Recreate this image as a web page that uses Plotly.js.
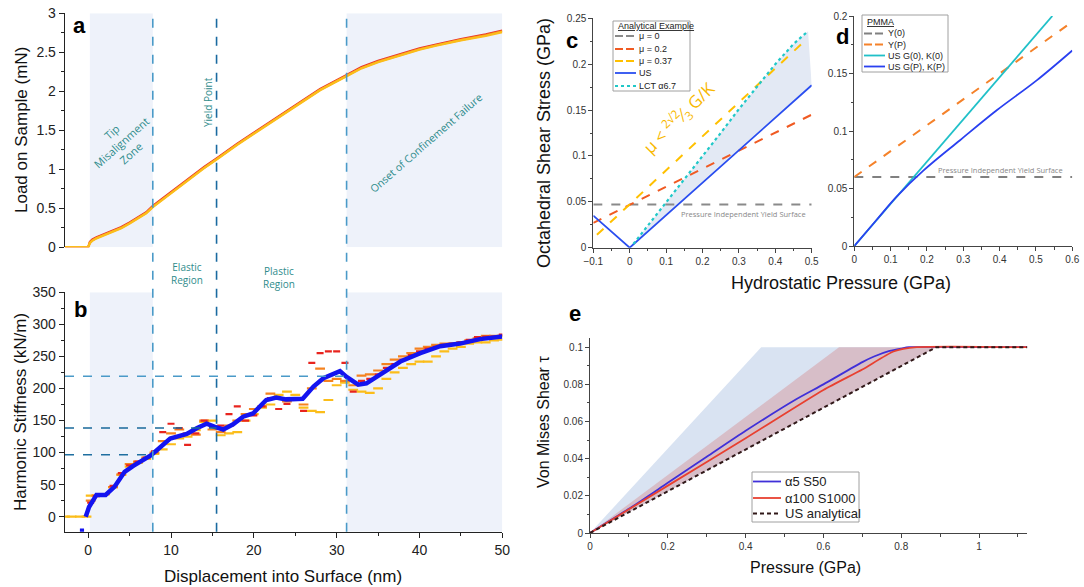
<!DOCTYPE html>
<html><head><meta charset="utf-8">
<script src="https://cdn.plot.ly/plotly-3.0.1.min.js"></script>
<style>html,body{margin:0;padding:0;background:#fff}#chart{width:1084px;height:587px}</style>
</head><body><div id="chart"></div>
<script>
// ---------- Panel a: load vs displacement ----------
const loadX      = [-2.8,-1,0,0.2,0.5,1,2,3,4,5,6,7,7.8,10,12,14,15.5,18,20,22,25,28,31.2,33,35,38,40,42,45,48,50];
const loadRed    = [0,0,0,0.07,0.10,0.13,0.17,0.21,0.26,0.32,0.38,0.45,0.53,0.71,0.87,1.03,1.14,1.33,1.47,1.61,1.83,2.03,2.21,2.31,2.39,2.49,2.55,2.60,2.67,2.73,2.78];
const loadOrange = [0,0,0,0.06,0.09,0.12,0.16,0.20,0.25,0.31,0.37,0.44,0.52,0.70,0.86,1.02,1.13,1.32,1.46,1.60,1.82,2.02,2.20,2.30,2.38,2.48,2.54,2.59,2.66,2.72,2.77];
const loadYellow = [0,0,0,0.055,0.085,0.115,0.155,0.195,0.245,0.305,0.365,0.435,0.515,0.695,0.855,1.015,1.125,1.315,1.455,1.595,1.815,2.015,2.195,2.295,2.375,2.475,2.535,2.585,2.655,2.71,2.76];

// ---------- Panel b: harmonic stiffness ----------
const stiffX      = [-2.8,-2,-1,-0.2,0.3,1,2,3,4,5,6,7,8,9,10,11,12,13,14,15,16,17,18,19,20,21,22,23,24,25,26,27,28,29,30,31,32,33,34,35,36,37,38,39,40,41,42,43,44,45,46,47,48,49,50];
const stiffRed    = [null,null,null,null,22,32,35,48,68,80,86,92,102,132,145,138,112,130,150,140,142,160,172,150,158,172,185,168,176,182,165,240,255,258,258,240,195,212,215,222,232,238,245,252,258,262,265,268,270,272,276,280,281,281,284];
const stiffOrange = [null,null,null,null,25,33,35,46,66,82,86,92,100,118,130,136,130,128,150,136,132,142,150,160,168,172,192,185,180,182,175,200,231,212,215,212,205,220,222,228,238,245,250,255,262,265,268,270,270,272,275,278,282,282,282];
const stiffYellow = [0,0,0,0,33,33,35,46,65,78,84,90,98,105,113,122,125,135,148,150,127,130,132,150,160,170,175,190,195,190,170,165,163,182,205,209,198,195,193,200,215,225,232,238,242,242,250,258,262,265,270,272,272,275,276];
const blueX = [-1.0,-0.5,null,-0.3,0.1,1.0,2.1,3.2,4.4,5.4,7.6,9.9,11.9,13.1,14.3,15.3,16.3,17.5,18.7,19.9,21.5,22.7,23.9,25.9,27.2,28.4,30.4,31.2,32.6,33.6,35.6,37.7,40.1,42.5,44.9,47.3,50];
const blueY = [-22,-22,null,0,15,34,34,47,70,79,96,122,129,138,145,140,136,144,156,161,182,186,183,184,203,216,227,218,206,208,224,242,255,266,270,277,281];

// region boundaries (nm) and marked stiffness levels (kN/m)
const regionBounds = [7.8, 15.5, 31.2];
const stiffMarks   = [96.5, 138.5, 219];

// ---------- Panel c: analytical example ----------
const cMu0X = [-0.1, 0.5],   cMu0Y = [0.047, 0.047];
const cMu02X = [-0.1, 0.5],  cMu02Y = [0.027, 0.145];
const cMu037X = [-0.09, 0.48], cMu037Y = [0.014, 0.225];
const cUSX = [-0.1, 0, 0.5], cUSY = [0.035, 0, 0.177];
const cLCTX = [0.01,0.05,0.1,0.15,0.2,0.25,0.3,0.35,0.4,0.45,0.49];
const cLCTY = [0.004,0.024,0.049,0.074,0.1,0.125,0.151,0.176,0.2,0.222,0.236];

// ---------- Panel d: PMMA ----------
const dY0X = [0, 0.6],  dY0Y = [0.06, 0.06];
const dYPX = [0, 0.6],  dYPY = [0.06, 0.195];
const dUS0X = [0, 0.545], dUS0Y = [0, 0.2];
const dUSPX = [0,0.061,0.1165,0.19,0.291,0.392,0.502,0.6];
const dUSPY = [0,0.0226,0.0429,0.0655,0.092,0.118,0.144,0.17];

// ---------- Panel e: von Mises shear ----------
const eA5X = [0,0.1,0.2,0.3,0.4,0.53,0.6,0.7,0.73,0.77,0.8,0.82,1.124];
const eA5Y = [0,0.013,0.027,0.041,0.055,0.072,0.080,0.092,0.095,0.098,0.0993,0.1,0.1];
const eA100X = [0,0.2,0.4,0.6,0.7,0.78,0.84,1.124];
const eA100Y = [0,0.0255,0.051,0.077,0.088,0.0977,0.1,0.1];
const eUSX = [0,0.89,1.124];
const eUSY = [0,0.1,0.1];
const eBlueBandX = [0,0.44,0.89,0];
const eBlueBandY = [0,0.1,0.1,0];
const eRedBandX  = [0,0.64,0.89,0];
const eRedBandY  = [0,0.1,0.1,0];

const FONT = "Liberation Sans, Arial, sans-serif";
const CAL = "Open Sans, Liberation Sans, sans-serif";
const teal = "#2f8c8c";

const traces = [];
// a
traces.push({x: loadX, y: loadRed, xaxis:'x', yaxis:'y', mode:'lines', line:{color:'#e8302a', width:2.2}, showlegend:false});
traces.push({x: loadX, y: loadOrange, xaxis:'x', yaxis:'y', mode:'lines', line:{color:'#f5821f', width:2.2}, showlegend:false});
traces.push({x: loadX, y: loadYellow, xaxis:'x', yaxis:'y', mode:'lines', line:{color:'#fbbd1a', width:2.4}, showlegend:false});
// b
const dashMarker = (c) => ({symbol:'line-ew', size:7, line:{color:c, width:2.2}});
traces.push({x: stiffX, y: stiffYellow, xaxis:'x2', yaxis:'y2', mode:'markers', marker:dashMarker('#fbbd1a'), showlegend:false});
traces.push({x: stiffX, y: stiffOrange, xaxis:'x2', yaxis:'y2', mode:'markers', marker:dashMarker('#f5821f'), showlegend:false});
traces.push({x: stiffX, y: stiffRed, xaxis:'x2', yaxis:'y2', mode:'markers', marker:{symbol:'line-ew', size:5, line:{color:'#e8241e', width:2.2}}, showlegend:false});
traces.push({x: blueX, y: blueY, xaxis:'x2', yaxis:'y2', mode:'lines', line:{color:'#1414f0', width:4.5}, showlegend:false});
// c fill between US and LCT
const usPosX = cUSX.slice(1), usPosY = cUSY.slice(1);
traces.push({x: [0].concat(cLCTX, usPosX.slice().reverse()), y: [0].concat(cLCTY, usPosY.slice().reverse()),
  xaxis:'x3', yaxis:'y3', mode:'lines', fill:'toself', fillcolor:'#e3e9f4', line:{width:0}, showlegend:false, hoverinfo:'skip'});
const cTraces = [
  {x: cMu0X, y: cMu0Y, name:'μ = 0', line:{color:'#8a8a8a', width:2, dash:'dash'}},
  {x: cMu02X, y: cMu02Y, name:'μ = 0.2', line:{color:'#f05a22', width:2, dash:'dash'}},
  {x: cMu037X, y: cMu037Y, name:'μ = 0.37', line:{color:'#ffc000', width:2, dash:'dash'}},
  {x: cUSX, y: cUSY, name:'US', line:{color:'#2a4ef0', width:1.8}},
  {x: cLCTX, y: cLCTY, name:'LCT α6.7', line:{color:'#20c8c8', width:2.2, dash:'dot'}}
];
cTraces.forEach(t => traces.push(Object.assign({xaxis:'x3', yaxis:'y3', mode:'lines', showlegend:false}, t)));
// d
const dTraces = [
  {x: dY0X, y: dY0Y, name:'Y(0)', line:{color:'#808080', width:2, dash:'dash'}},
  {x: dYPX, y: dYPY, name:'Y(P)', line:{color:'#f5822a', width:2, dash:'dash'}},
  {x: dUS0X, y: dUS0Y, name:'US G(0), K(0)', line:{color:'#20c0c8', width:1.8}},
  {x: dUSPX, y: dUSPY, name:'US G(P), K(P)', line:{color:'#2a40f0', width:1.8, shape:'spline'}}
];
dTraces.forEach(t => traces.push(Object.assign({xaxis:'x4', yaxis:'y4', mode:'lines', showlegend:false}, t)));
// e
traces.push({x: eBlueBandX, y: eBlueBandY, xaxis:'x5', yaxis:'y5', mode:'lines', fill:'toself', fillcolor:'#d9e3f2', line:{width:0}, showlegend:false, hoverinfo:'skip'});
traces.push({x: eRedBandX, y: eRedBandY, xaxis:'x5', yaxis:'y5', mode:'lines', fill:'toself', fillcolor:'#d7bec8', line:{width:0}, showlegend:false, hoverinfo:'skip'});
const eTraces = [
  {x: eA5X, y: eA5Y, name:'α5 S50', line:{color:'#4030d8', width:1.8, shape:'spline', smoothing:0.6}},
  {x: eA100X, y: eA100Y, name:'α100 S1000', line:{color:'#e84030', width:1.8, shape:'spline', smoothing:0.6}},
  {x: eUSX, y: eUSY, name:'US analytical', line:{color:'#301818', width:2, dash:'4px,3px'}}
];
eTraces.forEach(t => traces.push(Object.assign({xaxis:'x5', yaxis:'y5', mode:'lines', showlegend:false}, t)));

const axBase = {showgrid:false, zeroline:false, showline:true, linecolor:'#222', linewidth:1.3, ticks:'outside', tickcolor:'#222', ticklen:5, tickfont:{family:FONT, size:14, color:'#222'}};
const axSmall = {showgrid:false, zeroline:false, showline:true, linecolor:'#444', linewidth:1, ticks:'outside', tickcolor:'#444', ticklen:4, tickfont:{family:FONT, size:10, color:'#333'}};

const P = (px) => px/1084, Q = (py) => 1 - py/587;

const shapes = [];
// shaded regions a and b
[[0.2, regionBounds[0]], [regionBounds[2], 50]].forEach(r => {
  shapes.push({type:'rect', xref:'x', yref:'y', x0:r[0], x1:r[1], y0:0, y1:3, fillcolor:'#eef2fa', line:{width:0}, layer:'below'});
  shapes.push({type:'rect', xref:'x2', yref:'y2', x0:r[0], x1:r[1], y0:-23.4, y1:350, fillcolor:'#eef2fa', line:{width:0}, layer:'below'});
});
// horizontal stiffness marks
const hColors = ['#1f6fa0', '#1a6a9a', '#4a9ac8'];
stiffMarks.forEach((v, i) => {
  shapes.push({type:'line', xref:'x2', yref:'y2', x0:-2.8, x1:regionBounds[i], y0:v, y1:v, line:{color:hColors[i], width:1.5, dash:'dash'}});
});
// vertical region lines
const vColors = ['#4a9ac8', '#1a6aa0', '#4a9ac8'];
regionBounds.forEach((b, i) => {
  shapes.push({type:'line', xref:'x', yref:'paper', x0:b, x1:b, y0:Q(531.7), y1:Q(13), line:{color:vColors[i], width:1.6, dash:'dash'}});
});

const ann = [];
const A = (o) => ann.push(Object.assign({xref:'paper', yref:'paper', showarrow:false, xanchor:'center', yanchor:'middle'}, o));

// custom compact legends built from the trace definitions
function sampleDash(d) { return d === 'dash' ? '8px,3px' : d; }
function legendBox(x0, y0, x1, y1, title, entries, rows, sampleX0, sampleX1, textX, fontSize) {
  shapes.push({type:'rect', xref:'paper', yref:'paper', x0:P(x0), x1:P(x1), y0:Q(y1), y1:Q(y0), fillcolor:'#fff', line:{color:'#a0a0a0', width:1}});
  if (title) A({x:P(x0+3), y:Q(title.y), xanchor:'left', text:'<u>'+title.text+'</u>', font:{family:FONT, size:fontSize, color:'#222'}});
  entries.forEach((t, i) => {
    const ln = {color:t.line.color, width:t.line.width};
    if (t.line.dash) ln.dash = sampleDash(t.line.dash);
    shapes.push({type:'line', xref:'paper', yref:'paper', x0:P(sampleX0), x1:P(sampleX1), y0:Q(rows[i]), y1:Q(rows[i]), line:ln});
    A({x:P(textX), y:Q(rows[i]), xanchor:'left', text:t.name, font:{family:FONT, size:fontSize, color:'#222'}});
  });
}
legendBox(613, 21, 690, 91, {text:'Analytical Example', y:26}, cTraces, [36, 49, 61, 73, 86], 615, 636, 637, 9);
legendBox(862, 15, 948, 72, {text:'PMMA', y:22}, dTraces, [33.5, 44.5, 55.5, 66.5], 864, 885, 886, 9);
legendBox(752, 472, 859, 522, null, eTraces, [481.5, 498, 513.5], 753, 781, 783, 13);

// panel labels
A({x:P(79), y:Q(25), text:'<b>a</b>', font:{family:FONT, size:22, color:'#000'}});
A({x:P(80), y:Q(309), text:'<b>b</b>', font:{family:FONT, size:22, color:'#000'}});
A({x:P(572), y:Q(40), text:'<b>c</b>', font:{family:FONT, size:22, color:'#000'}});
A({x:P(842), y:Q(37), text:'<b>d</b>', font:{family:FONT, size:22, color:'#000'}});
A({x:P(575), y:Q(313), text:'<b>e</b>', font:{family:FONT, size:22, color:'#000'}});
// axis titles
A({x:P(22), y:Q(130), text:'Load on Sample (mN)', textangle:-90, font:{family:FONT, size:17, color:'#111'}});
A({x:P(20), y:Q(412), text:'Harmonic Stiffness (kN/m)', textangle:-90, font:{family:FONT, size:17, color:'#111'}});
A({x:P(283), y:Q(576), text:'Displacement into Surface (nm)', font:{family:FONT, size:17, color:'#111'}});
A({x:P(544), y:Q(143), text:'Octahedral Shear Stress (GPa)', textangle:-90, font:{family:FONT, size:18, color:'#111'}});
A({x:P(841), y:Q(283), text:'Hydrostatic Pressure (GPa)', font:{family:FONT, size:18, color:'#111'}});
A({x:P(543), y:Q(422), text:'Von Mises Shear τ', textangle:-90, font:{family:FONT, size:16, color:'#111'}});
A({x:P(805), y:Q(567), text:'Pressure (GPa)', font:{family:FONT, size:16, color:'#111'}});
// region annotations
A({x:P(121), y:Q(143), text:'Tip<br>Misalignment<br>Zone', textangle:-42, font:{family:CAL, size:11, color:teal}});
A({x:P(208), y:Q(102), text:'Yield Point', textangle:-90, font:{family:CAL, size:10, color:teal}});
A({x:P(426), y:Q(143), text:'Onset of Confinement Failure', textangle:-41, font:{family:CAL, size:10.5, color:teal}});
A({x:P(187), y:Q(273), text:'Elastic<br>Region', font:{family:CAL, size:10, color:teal}});
A({x:P(279), y:Q(277), text:'Plastic<br>Region', font:{family:CAL, size:10, color:teal}});
// c / d annotations
A({x:P(743), y:Q(214), text:'Pressure Independent Yield Surface', font:{family:CAL, size:7.5, color:'#888'}});
A({x:P(1000), y:Q(170), text:'Pressure Independent Yield Surface', font:{family:CAL, size:7.5, color:'#888'}});
A({x:P(679), y:Q(118), text:'μ < <sup>2√2</sup>⁄<sub>3</sub> G/K', textangle:-45, font:{family:CAL, size:17, color:'#f8b800'}});

const layout = {
  width:1084, height:587, margin:{l:0, r:0, t:0, b:0}, paper_bgcolor:'#fff', plot_bgcolor:'rgba(0,0,0,0)',
  font:{family:FONT}, showlegend:false,
  xaxis: Object.assign({}, axBase, {domain:[P(65), P(502.3)], range:[-2.8,50], visible:false, anchor:'y'}),
  yaxis: Object.assign({}, axBase, {domain:[Q(247.3), Q(13.3)], range:[0,3], dtick:0.5, anchor:'x', minor:{ticks:'outside', ticklen:3, dtick:0.25, tickcolor:'#222'}}),
  xaxis2: Object.assign({}, axBase, {domain:[P(65), P(502.3)], range:[-2.8,50], dtick:10, anchor:'y2', minor:{ticks:'outside', ticklen:3, dtick:5, tickcolor:'#222'}}),
  yaxis2: Object.assign({}, axBase, {domain:[Q(531.7), Q(292.3)], range:[-23.4,350], dtick:50, anchor:'x2', minor:{ticks:'outside', ticklen:3, dtick:25, tickcolor:'#222'}}),
  xaxis3: Object.assign({}, axSmall, {domain:[P(593.3), P(811.7)], range:[-0.1,0.5], dtick:0.1, anchor:'y3', minor:{ticks:'outside', ticklen:2.5, dtick:0.05, tickcolor:'#444'}}),
  yaxis3: Object.assign({}, axSmall, {domain:[Q(247.7), Q(18.3)], range:[0,0.25], dtick:0.05, anchor:'x3', minor:{ticks:'outside', ticklen:2.5, dtick:0.025, tickcolor:'#444'}}),
  xaxis4: Object.assign({}, axSmall, {domain:[P(854.3), P(1072.3)], range:[0,0.6], dtick:0.1, anchor:'y4', minor:{ticks:'outside', ticklen:2.5, dtick:0.05, tickcolor:'#444'}}),
  yaxis4: Object.assign({}, axSmall, {domain:[Q(246), Q(16)], range:[0,0.2], dtick:0.05, anchor:'x4', minor:{ticks:'outside', ticklen:2.5, dtick:0.025, tickcolor:'#444'}}),
  xaxis5: Object.assign({}, axSmall, {domain:[P(590), P(1027.3)], range:[0,1.124], dtick:0.2, anchor:'y5', minor:{ticks:'outside', ticklen:2.5, dtick:0.1, tickcolor:'#444'}}),
  yaxis5: Object.assign({}, axSmall, {domain:[Q(533), Q(338.3)], range:[0,0.1048], dtick:0.02, anchor:'x5', minor:{ticks:'outside', ticklen:2.5, dtick:0.01, tickcolor:'#444'}}),
  shapes: shapes,
  annotations: ann
};

Plotly.newPlot('chart', traces, layout, {staticPlot:true, displayModeBar:false});
</script>
</body></html>
